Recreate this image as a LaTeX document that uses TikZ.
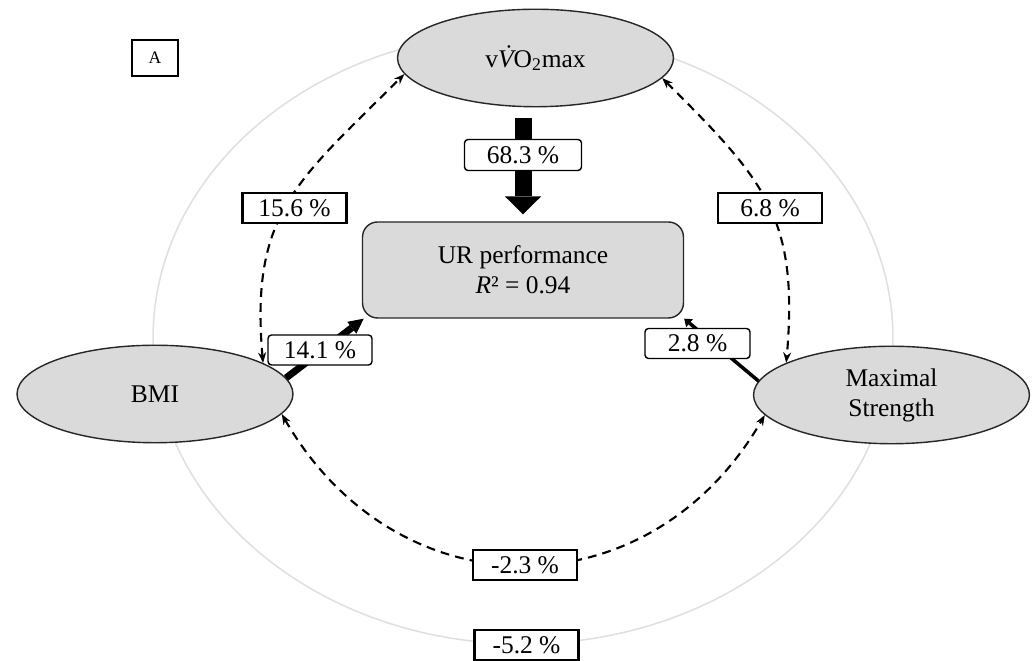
\documentclass[tikz,border=0pt]{standalone}
\usepackage{fontspec}
\setmainfont{Liberation Serif}
\usepackage{xcolor}
\usetikzlibrary{arrows.meta,shapes.geometric}
\definecolor{fillgray}{RGB}{218,218,218}
\definecolor{ringgray}{RGB}{224,224,224}

\begin{document}
\begin{tikzpicture}[x=0.02cm,y=0.02cm,font=\fontsize{14.5}{17}\selectfont,
    var/.style={ellipse,draw=black!85,line width=0.8pt,fill=fillgray,minimum width=5.52cm,minimum height=1.95cm,inner sep=0pt,align=center},
    outcome/.style={rectangle,rounded corners=0.3cm,draw=black!85,line width=0.8pt,fill=fillgray,minimum width=6.42cm,minimum height=1.92cm,align=center},
    pathbox/.style={draw,fill=white,rounded corners=2pt,line width=0.8pt,minimum width=2.08cm,minimum height=0.6cm,inner sep=0pt},
    corrbox/.style={draw,fill=white,line width=1.5pt,minimum width=2.08cm,minimum height=0.6cm,inner sep=0pt},
    dashline/.style={line width=1.2pt,dash pattern=on 5pt off 3.5pt,{Stealth[length=6pt,width=4.5pt]}-{Stealth[length=6pt,width=4.5pt]}}]
    \useasboundingbox (0,0) rectangle (1035,661);
    \draw[ringgray,line width=0.9pt] (523,323) ellipse [x radius=7.4cm,y radius=6.12cm];
    \node[draw,line width=0.6pt,minimum width=0.92cm,minimum height=0.72cm,font=\fontsize{10}{12}\selectfont] (panel) at (155,603) {A};
    \node[var] (vo) at (535.5,603) {v{\itshape\accent"02D9 V}O\textsubscript{2}max};
    \node[outcome] (ur) at (523,391) {UR performance\\\textit{R}² = 0.94};
    \node[var] (bmi) at (155,267) {BMI};
    \node[var] (ms) at (891.5,266) {Maximal\\Strength};
    \draw[line width=0.34cm,-{Triangle[width=0.73cm,length=0.36cm,line width=0pt]},shorten <=0.22cm,shorten >=0.14cm] (vo.south -| ur.north) -- (ur.north);
    \draw[line width=0.14cm,-{Triangle[width=0.3cm,length=0.3cm,line width=0pt]}] (bmi.7) -- (ur.197);
    \draw[line width=2pt,-{Triangle[width=6pt,length=4pt,line width=0pt]}] (ms.174) -- (ur.south east);
    \draw[dashline] (bmi.16) to[out=95,in=225,looseness=1.2] (vo.187);
    \draw[dashline] (vo.351) to[out=-45,in=85,looseness=1.2] (ms.163);
    \draw[dashline] (bmi.351) to[out=-60,in=240,looseness=1.22] (ms.189);
    \node[pathbox,minimum width=2.34cm,minimum height=0.62cm] (l683) at (523,506) {68.3 \%};
    \node[corrbox] (l156) at (294.5,453) {15.6 \%};
    \node[corrbox] (l68) at (770,453) {6.8 \%};
    \node[pathbox] (l141) at (320,311) {14.1 \%};
    \node[pathbox,minimum width=2.1cm] (l28) at (697.5,317.5) {2.8 \%};
    \node[corrbox] (l23) at (525,96) {-2.3 \%};
    \node[corrbox] (l52) at (526.5,16) {-5.2 \%};
\end{tikzpicture}
\end{document}
